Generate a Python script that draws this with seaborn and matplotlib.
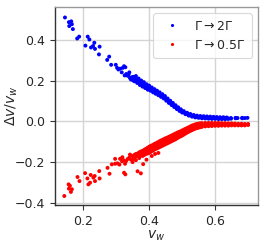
import matplotlib
matplotlib.use("Agg")
import matplotlib.pyplot as plt
import seaborn as sns
import pandas as pd

# ---- data ----
label_up = r"$\Gamma\rightarrow2\Gamma$"
label_down = r"$\Gamma\rightarrow0.5\Gamma$"

blue_sparse_vw = [0.145, 0.157, 0.164, 0.158, 0.166, 0.169, 0.182, 0.188, 0.214, 0.219,
                  0.207, 0.224, 0.230, 0.234, 0.236, 0.250, 0.248, 0.273, 0.279, 0.285,
                  0.299, 0.307, 0.317, 0.324, 0.320, 0.328, 0.335, 0.345, 0.331, 0.338,
                  0.326, 0.312, 0.303, 0.342, 0.340, 0.348]
blue_sparse_dv = [0.509, 0.486, 0.490, 0.467, 0.476, 0.452, 0.406, 0.415, 0.415, 0.401,
                  0.371, 0.362, 0.369, 0.385, 0.355, 0.366, 0.328, 0.301, 0.317, 0.277,
                  0.277, 0.254, 0.240, 0.270, 0.262, 0.265, 0.223, 0.205, 0.232, 0.229,
                  0.225, 0.258, 0.262, 0.212, 0.240, 0.216]

blue_band_vw = [0.352, 0.352, 0.356, 0.356, 0.360, 0.360, 0.364, 0.364, 0.368, 0.368,
                0.372, 0.372, 0.376, 0.376, 0.380, 0.380, 0.384, 0.384, 0.388, 0.388,
                0.392, 0.392, 0.396, 0.396, 0.400, 0.400, 0.404, 0.404, 0.408, 0.408,
                0.412, 0.412, 0.416, 0.416, 0.420, 0.420, 0.424, 0.424, 0.428, 0.428,
                0.432, 0.432, 0.436, 0.436, 0.440, 0.440, 0.444, 0.444, 0.448, 0.448,
                0.452, 0.452, 0.456, 0.456, 0.460, 0.460, 0.464, 0.464, 0.468, 0.468,
                0.472, 0.472, 0.476, 0.476, 0.480, 0.480, 0.484, 0.484, 0.488, 0.488,
                0.492, 0.492, 0.496, 0.496, 0.500, 0.500, 0.505, 0.505, 0.510, 0.510,
                0.515, 0.515, 0.520, 0.520, 0.525, 0.525, 0.530, 0.530, 0.535, 0.535,
                0.540, 0.540, 0.545, 0.545, 0.550, 0.550, 0.555, 0.555, 0.560, 0.560,
                0.565, 0.565, 0.570, 0.570, 0.575, 0.575, 0.580, 0.580, 0.585, 0.585,
                0.590, 0.590, 0.595, 0.595, 0.600, 0.600, 0.605, 0.605, 0.610, 0.610,
                0.615, 0.615, 0.620, 0.620, 0.625, 0.625, 0.630, 0.630, 0.635, 0.635,
                0.640, 0.640, 0.648, 0.648, 0.662, 0.662, 0.668, 0.682, 0.682, 0.690,
                0.698]
blue_band_dv = [0.218, 0.200, 0.212, 0.196, 0.205, 0.222, 0.200, 0.188, 0.196, 0.210,
                0.190, 0.178, 0.186, 0.200, 0.183, 0.170, 0.178, 0.192, 0.174, 0.163,
                0.170, 0.182, 0.166, 0.155, 0.163, 0.175, 0.158, 0.150, 0.155, 0.166,
                0.151, 0.142, 0.147, 0.158, 0.144, 0.135, 0.140, 0.150, 0.136, 0.128,
                0.132, 0.142, 0.127, 0.120, 0.123, 0.133, 0.119, 0.112, 0.114, 0.124,
                0.108, 0.101, 0.103, 0.112, 0.097, 0.090, 0.092, 0.101, 0.087, 0.080,
                0.081, 0.090, 0.076, 0.070, 0.071, 0.079, 0.066, 0.060, 0.061, 0.069,
                0.056, 0.051, 0.052, 0.059, 0.048, 0.043, 0.044, 0.050, 0.040, 0.035,
                0.036, 0.042, 0.032, 0.028, 0.030, 0.036, 0.027, 0.023, 0.025, 0.031,
                0.023, 0.019, 0.022, 0.028, 0.021, 0.017, 0.020, 0.026, 0.019, 0.015,
                0.019, 0.025, 0.018, 0.014, 0.018, 0.024, 0.017, 0.013, 0.017, 0.023,
                0.017, 0.012, 0.016, 0.022, 0.016, 0.012, 0.016, 0.021, 0.016, 0.011,
                0.015, 0.020, 0.015, 0.011, 0.015, 0.020, 0.015, 0.011, 0.014, 0.019,
                0.014, 0.012, 0.016, 0.013, 0.015, 0.017, 0.016, 0.017, 0.015, 0.016,
                0.017]

red_sparse_vw = [0.143, 0.156, 0.160, 0.157, 0.166, 0.163, 0.183, 0.189, 0.206, 0.213,
                 0.216, 0.221, 0.223, 0.231, 0.235, 0.236, 0.249, 0.250, 0.274, 0.280,
                 0.287, 0.297, 0.297, 0.304, 0.310, 0.312, 0.318, 0.319, 0.322, 0.324,
                 0.328, 0.327, 0.330, 0.335, 0.340, 0.342, 0.345, 0.372, 0.382, 0.392,
                 0.408, 0.418, 0.428, 0.365, 0.375]
red_sparse_dv = [-0.366, -0.309, -0.316, -0.330, -0.333, -0.346, -0.273, -0.293, -0.254, -0.280,
                 -0.309, -0.301, -0.263, -0.276, -0.268, -0.293, -0.244, -0.280, -0.228, -0.257,
                 -0.211, -0.184, -0.208, -0.206, -0.212, -0.184, -0.196, -0.176, -0.190, -0.252,
                 -0.260, -0.208, -0.195, -0.185, -0.178, -0.163, -0.188, -0.168, -0.210, -0.188,
                 -0.170, -0.160, -0.155, -0.245, -0.255]

red_band_vw = [0.350, 0.350, 0.350, 0.355, 0.355, 0.360, 0.360, 0.360, 0.365, 0.365,
               0.370, 0.370, 0.370, 0.375, 0.375, 0.380, 0.380, 0.380, 0.385, 0.385, 0.385,
               0.390, 0.390, 0.390, 0.395, 0.395, 0.395, 0.400, 0.400, 0.400,
               0.405, 0.405, 0.405, 0.410, 0.410, 0.410, 0.415, 0.415, 0.415,
               0.420, 0.420, 0.420, 0.425, 0.425, 0.425, 0.430, 0.430, 0.430,
               0.435, 0.435, 0.435, 0.440, 0.440, 0.440, 0.445, 0.445, 0.445,
               0.450, 0.450, 0.450, 0.455, 0.455, 0.455, 0.460, 0.460, 0.460,
               0.465, 0.465, 0.465, 0.470, 0.470, 0.470, 0.475, 0.475, 0.475,
               0.480, 0.480, 0.480, 0.485, 0.485, 0.485, 0.490, 0.490, 0.490,
               0.495, 0.495, 0.495, 0.500, 0.500, 0.500, 0.505, 0.505, 0.505,
               0.510, 0.510, 0.510, 0.515, 0.515, 0.515, 0.520, 0.520, 0.520,
               0.525, 0.525, 0.525, 0.530, 0.530, 0.530, 0.535, 0.535, 0.535,
               0.540, 0.540, 0.540, 0.545, 0.545, 0.545, 0.550, 0.550, 0.550,
               0.555, 0.555, 0.555, 0.560, 0.560, 0.560, 0.570, 0.570, 0.570,
               0.580, 0.580, 0.580, 0.590, 0.590, 0.590, 0.600, 0.600, 0.600,
               0.610, 0.610, 0.610, 0.620, 0.620, 0.620, 0.630, 0.630, 0.630,
               0.640, 0.640, 0.640, 0.650, 0.650, 0.650, 0.660, 0.660, 0.660,
               0.670, 0.670, 0.670, 0.680, 0.680, 0.680, 0.690, 0.690, 0.690,
               0.700, 0.700]
red_band_dv = [-0.170, -0.185, -0.200, -0.165, -0.178, -0.160, -0.172, -0.190, -0.158, -0.168,
               -0.152, -0.165, -0.180, -0.148, -0.160, -0.145, -0.155, -0.170, -0.140, -0.152, -0.165,
               -0.135, -0.148, -0.160, -0.130, -0.145, -0.158, -0.125, -0.140, -0.155,
               -0.120, -0.135, -0.150, -0.117, -0.130, -0.145, -0.112, -0.126, -0.140,
               -0.108, -0.122, -0.136, -0.104, -0.118, -0.132, -0.099, -0.113, -0.128,
               -0.095, -0.109, -0.124, -0.091, -0.105, -0.120, -0.087, -0.101, -0.116,
               -0.083, -0.097, -0.112, -0.080, -0.093, -0.108, -0.076, -0.089, -0.104,
               -0.072, -0.085, -0.100, -0.068, -0.081, -0.096, -0.064, -0.077, -0.092,
               -0.060, -0.073, -0.088, -0.056, -0.069, -0.083, -0.052, -0.065, -0.078,
               -0.049, -0.061, -0.074, -0.045, -0.057, -0.070, -0.041, -0.053, -0.065,
               -0.037, -0.049, -0.060, -0.033, -0.045, -0.055, -0.029, -0.041, -0.051,
               -0.025, -0.037, -0.047, -0.021, -0.033, -0.043, -0.018, -0.029, -0.039,
               -0.015, -0.026, -0.036, -0.013, -0.024, -0.033, -0.011, -0.022, -0.031,
               -0.010, -0.020, -0.029, -0.009, -0.019, -0.027, -0.008, -0.017, -0.025,
               -0.008, -0.016, -0.024, -0.008, -0.015, -0.023, -0.008, -0.015, -0.022,
               -0.008, -0.014, -0.022, -0.009, -0.014, -0.021, -0.009, -0.014, -0.021,
               -0.010, -0.015, -0.021, -0.010, -0.015, -0.020, -0.011, -0.016, -0.020,
               -0.012, -0.016, -0.020, -0.012, -0.016, -0.020, -0.013, -0.017, -0.020,
               -0.013, -0.018]

x_ticks = [0.2, 0.4, 0.6]
y_ticks = [-0.4, -0.2, 0.0, 0.2, 0.4]

# ---- build table ----
blue_vw = blue_sparse_vw + blue_band_vw
blue_dv = blue_sparse_dv + blue_band_dv
red_vw = red_sparse_vw + red_band_vw
red_dv = red_sparse_dv + red_band_dv
df = pd.DataFrame({
    "vw": blue_vw + red_vw,
    "dv": blue_dv + red_dv,
    "case": [label_up] * len(blue_vw) + [label_down] * len(red_vw),
})

sns.set_style("white")
plt.rcParams["font.family"] = ["DejaVu Sans"]

fig = plt.figure(figsize=(2.66, 2.44), dpi=100)
ax = fig.add_axes([0.207, 0.160, 0.763, 0.811])

sns.scatterplot(data=df, x="vw", y="dv", hue="case",
                palette={label_up: "blue", label_down: "red"},
                s=8, linewidth=0, ax=ax, zorder=3)

ax.set_xlim(0.115, 0.73)
ax.set_ylim(-0.41, 0.56)
ax.set_xticks(x_ticks)
ax.set_yticks(y_ticks)
ax.set_xticklabels([f"{t:.1f}" for t in x_ticks])
ax.set_yticklabels([f"{t:.1f}".replace("-", "\u2212") for t in y_ticks])
ax.tick_params(axis="both", labelsize=9, length=3.5, width=0.8, color="0.2",
               direction="out", left=True, bottom=True)
ax.grid(True, color="#d4d4d4", linewidth=1.0, zorder=0)
ax.set_axisbelow(True)
for side in ["left", "bottom"]:
    ax.spines[side].set_color("0.2")
    ax.spines[side].set_linewidth(1.0)
for side in ["top", "right"]:
    ax.spines[side].set_color("0.6")
    ax.spines[side].set_linewidth(1.0)

ax.set_xlabel(r"$v_w$", fontsize=10, labelpad=1)
ax.set_ylabel(r"$\Delta v/v_w$", fontsize=10)
ax.yaxis.set_label_coords(-0.175, 0.5)

leg = ax.legend(loc="upper right", fontsize=9, frameon=True, markerscale=0.8,
                borderpad=0.5, handletextpad=0.8, labelspacing=0.5)
leg.get_frame().set_edgecolor("#d0d0d0")
leg.get_frame().set_linewidth(0.8)
leg.set_title(None)

fig.savefig("out.png", dpi=100)
